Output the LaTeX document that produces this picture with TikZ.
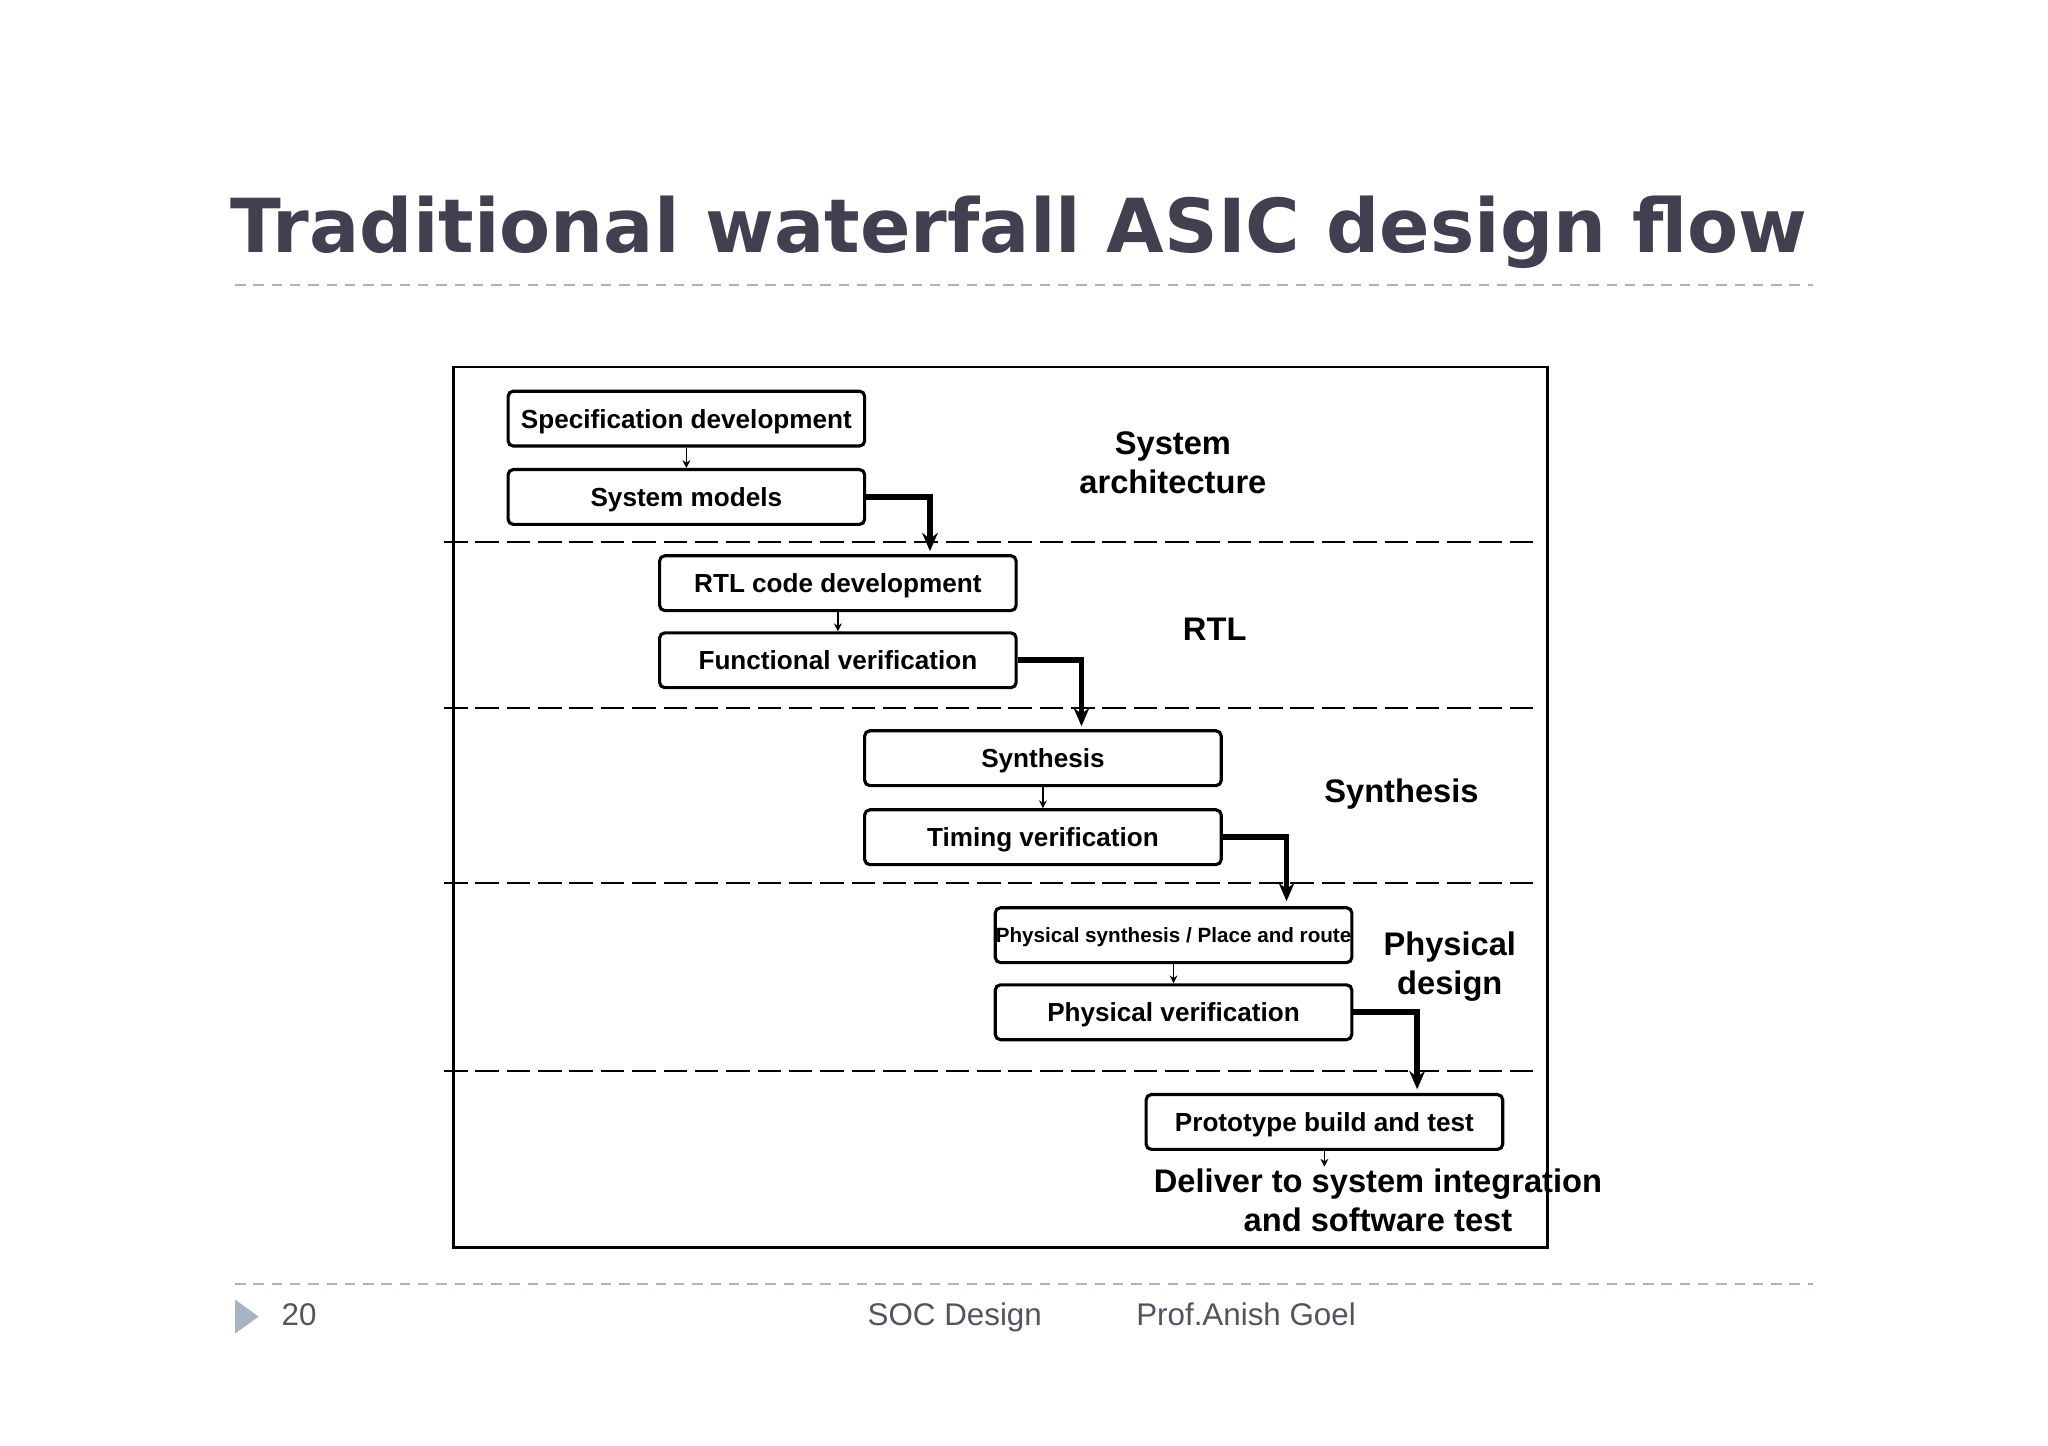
\documentclass[tikz,border=0pt]{standalone}
\usepackage{fontspec}
\setmainfont{Liberation Sans}
\newfontfamily\ttlfont{DejaVu Sans}
\usetikzlibrary{arrows.meta}
\definecolor{ttl}{HTML}{404050}
\definecolor{dl}{HTML}{A8B4C4}
\begin{document}
\begin{tikzpicture}[x=0.5pt,y=-0.5pt,
 stage/.style={draw,line width=1.2pt,rounded corners=2pt,minimum width=136.5pt,minimum height=21pt,inner sep=0pt,text depth=0pt,font=\bfseries\fontsize{10}{12}\selectfont},
 lab/.style={align=center,font=\bfseries\fontsize{12.5}{15}\selectfont},
 small/.style={-{Stealth[length=3pt,width=3pt]},line width=0.6pt},
 big/.style={-{Stealth[length=7pt,width=6pt]},line width=2.2pt},
 sep/.style={dashed,line width=0.7pt,dash pattern=on 9pt off 3pt},
 foot/.style={anchor=base,text=ttl!90,font=\fontsize{12}{14}\selectfont}]
\useasboundingbox (0,0) rectangle (1568,1107);
\node[text=ttl,font=\ttlfont\bfseries\fontsize{28.5}{34}\selectfont] (title) at (780,178) {Traditional waterfall ASIC design flow};
\draw[dl,dashed,line width=0.8pt,dash pattern=on 4pt off 3pt] (180,218) -- (1388,218);
\draw[dl,dashed,line width=0.8pt,dash pattern=on 4pt off 3pt] (180,983) -- (1388,983);
\fill[dl] (180,995) -- (198,1008) -- (180,1021) -- cycle;
\node[foot] (pg) at (229,1015) {20};
\node[foot] (soc) at (731,1015) {SOC Design};
\node[foot] (prof) at (954,1015) {Prof.Anish Goel};
\draw[line width=1pt] (347,281) rectangle (1185,955);
\foreach \y in {415,542,676,820} \draw[sep] (340,\y) -- (1176,\y);
\node[stage] (spec) at (525.5,320.5) {Specification development};
\node[stage] (sm) at (525.5,380.5) {System models};
\node[stage] (rtl) at (641.5,446.5) {RTL code development};
\node[stage] (fv) at (641.5,505.5) {Functional verification};
\node[stage] (syn) at (798.5,580.5) {Synthesis};
\node[stage] (tv) at (798.5,641) {Timing verification};
\node[stage,font=\bfseries\fontsize{7.9}{10}\selectfont] (ps) at (898.5,716) {Physical synthesis / Place and route};
\node[stage] (pv) at (898.5,775) {Physical verification};
\node[stage] (pt) at (1014,859) {Prototype build and test};
\draw[small] (spec) -- (sm);
\draw[small] (rtl) -- (fv);
\draw[small] (syn) -- (tv);
\draw[small] (ps) -- (pv);
\coordinate (c1) at (712,422);
\coordinate (c2) at (828,556);
\coordinate (c3) at (985,690);
\coordinate (c4) at (1085,834);
\draw[big] (sm.east) -| (c1);
\draw[big] (fv.east) -| (c2);
\draw[big] (tv.east) -| (c3);
\draw[big] (pv.east) -| (c4);
\node[lab] (l1) at (898,354) {System\\architecture};
\node[lab] (l2) at (930,482) {RTL};
\node[lab] (l3) at (1073,608) {Synthesis};
\node[lab] (l4) at (1110,740) {Physical\\design};
\node[lab] (l5) at (1055,919) {Deliver to system integration\\and software test};
\draw[small] (pt.south) -- ++(0,12);
\end{tikzpicture}
\end{document}
